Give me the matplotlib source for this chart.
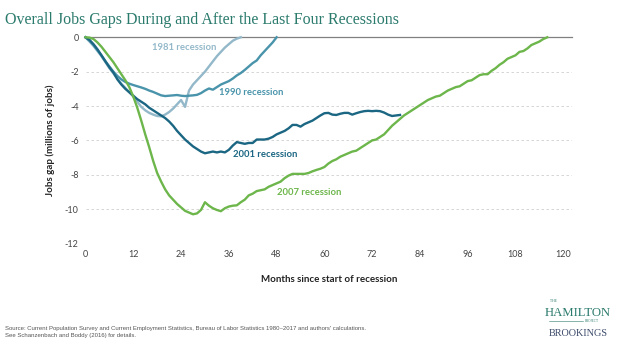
import matplotlib
matplotlib.use("Agg")
import matplotlib.pyplot as plt
from matplotlib.lines import Line2D

# Jobs gap (millions of jobs) by month since the start of each recession
months_1981 = list(range(0, 40))
gap_1981 = [0, -0.25, -0.5, -0.8, -1.1, -1.45, -1.8, -2.1, -2.4, -2.7,
            -2.95, -3.2, -3.45, -3.75, -4.05, -4.25, -4.4, -4.5, -4.58, -4.6,
            -4.5, -4.35, -4.15, -3.9, -3.65, -4.05, -3.1, -2.75, -2.5, -2.25,
            -2.0, -1.7, -1.4, -1.1, -0.85, -0.6, -0.4, -0.2, -0.08, 0.0]

months_1990 = list(range(0, 49))
gap_1990 = [0, -0.2, -0.45, -0.75, -1.05, -1.4, -1.7, -2.0, -2.25, -2.45,
            -2.6, -2.7, -2.78, -2.85, -2.92, -3.0, -3.1, -3.18, -3.28, -3.38,
            -3.42, -3.4, -3.38, -3.36, -3.4, -3.42, -3.4, -3.38, -3.35, -3.25,
            -3.1, -2.98, -3.05, -2.9, -2.75, -2.65, -2.55, -2.4, -2.22, -2.08,
            -1.9, -1.7, -1.5, -1.35, -1.05, -0.8, -0.55, -0.3, 0.0]

months_2001 = list(range(0, 80))
gap_2001 = [0, -0.15, -0.4, -0.7, -1.05, -1.4, -1.75, -2.05, -2.45, -2.75,
            -3.0, -3.2, -3.4, -3.6, -3.75, -3.9, -4.1, -4.25, -4.4, -4.55,
            -4.7, -4.9, -5.15, -5.45, -5.7, -5.95, -6.15, -6.35, -6.5, -6.65,
            -6.75, -6.7, -6.65, -6.7, -6.65, -6.7, -6.55, -6.3, -6.1, -6.15,
            -6.2, -6.15, -6.15, -5.95, -5.95, -5.95, -5.9, -5.8, -5.65, -5.55,
            -5.45, -5.3, -5.1, -5.1, -5.2, -5.05, -4.95, -4.85, -4.7, -4.55,
            -4.42, -4.4, -4.5, -4.52, -4.45, -4.4, -4.4, -4.5, -4.42, -4.35,
            -4.3, -4.28, -4.3, -4.28, -4.3, -4.38, -4.5, -4.58, -4.55, -4.52]

months_2007 = list(range(0, 117))
gap_2007 = [0, -0.02, -0.1, -0.3, -0.55, -0.85, -1.15, -1.45, -1.8, -2.15,
            -2.5, -2.9, -3.45, -4.1, -4.85, -5.65, -6.4, -7.2, -7.9, -8.4,
            -8.85, -9.2, -9.45, -9.7, -9.9, -10.1, -10.2, -10.3, -10.25, -10.05,
            -9.6, -9.8, -9.95, -10.05, -10.12, -9.95, -9.85, -9.8, -9.78, -9.6,
            -9.45, -9.2, -9.1, -8.95, -8.9, -8.85, -8.7, -8.6, -8.5, -8.4,
            -8.2, -8.05, -7.95, -7.95, -7.95, -7.95, -7.9, -7.8, -7.72, -7.65,
            -7.55, -7.35, -7.2, -7.1, -6.95, -6.85, -6.75, -6.65, -6.6, -6.45,
            -6.3, -6.15, -6.0, -5.95, -5.8, -5.65, -5.4, -5.15, -4.95, -4.75,
            -4.55, -4.4, -4.25, -4.1, -3.95, -3.8, -3.65, -3.55, -3.45, -3.4,
            -3.25, -3.1, -3.0, -2.9, -2.85, -2.7, -2.55, -2.5, -2.35, -2.2,
            -2.15, -2.15, -1.95, -1.8, -1.6, -1.45, -1.25, -1.15, -1.05, -0.85,
            -0.8, -0.65, -0.45, -0.35, -0.25, -0.1, 0.0]

x_ticks = [0, 12, 24, 36, 48, 60, 72, 84, 96, 108, 120]
y_ticks = [0, -2, -4, -6, -8, -10, -12]

series = [
    ("1981 recession", months_1981, gap_1981, "#93b8c9", (16.7, -0.62)),
    ("1990 recession", months_1990, gap_1990, "#4994ab", (33.5, -3.24)),
    ("2001 recession", months_2001, gap_2001, "#1b6682", (37.0, -6.84)),
    ("2007 recession", months_2007, gap_2007, "#6db64b", (48.1, -9.05)),
]

sans = ["Lato", "DejaVu Sans"]
serif = ["Liberation Serif", "DejaVu Serif"]

fig = plt.figure(figsize=(6.22, 3.44), dpi=100)
fig.patch.set_facecolor("white")
ax = fig.add_axes([0.1375, 0.2922, 0.7821, 0.5994])

for label, xs, ys, color, (lx, ly) in series:
    ax.plot(xs, ys, color=color, lw=1.7, solid_joinstyle="round",
            clip_on=False, zorder=3)
    ax.text(lx, ly, label, color=color, fontsize=6.8, fontweight="bold",
            family=sans, ha="left", va="center", zorder=4)

ax.set_xlim(0, 122.2)
ax.set_ylim(-12, 0)
for s in ax.spines.values():
    s.set_visible(False)

# Gridlines: dashed light gray for negatives, solid darker line at zero
for yv in y_ticks[1:]:
    ax.axhline(yv, color="#cfcfcf", lw=0.6, ls=(0, (3, 3)), zorder=1)
ax.axhline(0, color="#808080", lw=0.9, zorder=2, clip_on=False)

ax.set_xticks(x_ticks)
ax.set_yticks(y_ticks)
ax.set_xticklabels([str(v) for v in x_ticks])
ax.set_yticklabels([str(v) for v in y_ticks])
ax.tick_params(length=0, labelsize=6.5, colors="#444444", pad=5)
for t in ax.get_xticklabels() + ax.get_yticklabels():
    t.set_family(sans)

ax.set_xlabel("Months since start of recession", fontsize=7, fontweight="bold",
              family=sans, color="#222222", labelpad=11)
ax.set_ylabel("Jobs gap (millions of jobs)", fontsize=7, fontweight="bold",
              family=sans, color="#222222", labelpad=7)

# Title
fig.text(0.008, 0.965, "Overall Jobs Gaps During and After the Last Four Recessions",
         family=serif, fontsize=11.5, color="#2b7b6d", ha="left", va="top")

# Source note
fig.text(0.008, 0.035,
         "Source: Current Population Survey and Current Employment Statistics, "
         "Bureau of Labor Statistics 1980\u20132017 and authors' calculations.\n"
         "See Schanzenbach and Boddy (2016) for details.",
         family=["Liberation Sans", "DejaVu Sans"], fontsize=4.3,
         color="#555555", ha="left", va="center", linespacing=1.6)

# Hamilton Project / Brookings wordmark
teal = "#2b7b6d"
fig.text(0.8895, 0.125, "THE", family=serif, fontsize=2.6, color=teal,
         ha="center", va="center")
fig.text(0.929, 0.091, "HAMILTON", family=serif, fontsize=9.2, color=teal,
         ha="center", va="center")
fig.text(0.952, 0.068, "PROJECT", family=serif, fontsize=2.4, color=teal,
         ha="center", va="center")
fig.add_artist(Line2D([0.882, 0.938], [0.068, 0.068], color=teal, lw=0.4,
                      transform=fig.transFigure))
fig.text(0.929, 0.031, "BROOKINGS", family=serif, fontsize=7.4,
         color="#3c4a6a", ha="center", va="center")

fig.savefig("out.png", dpi=100, facecolor="white")
